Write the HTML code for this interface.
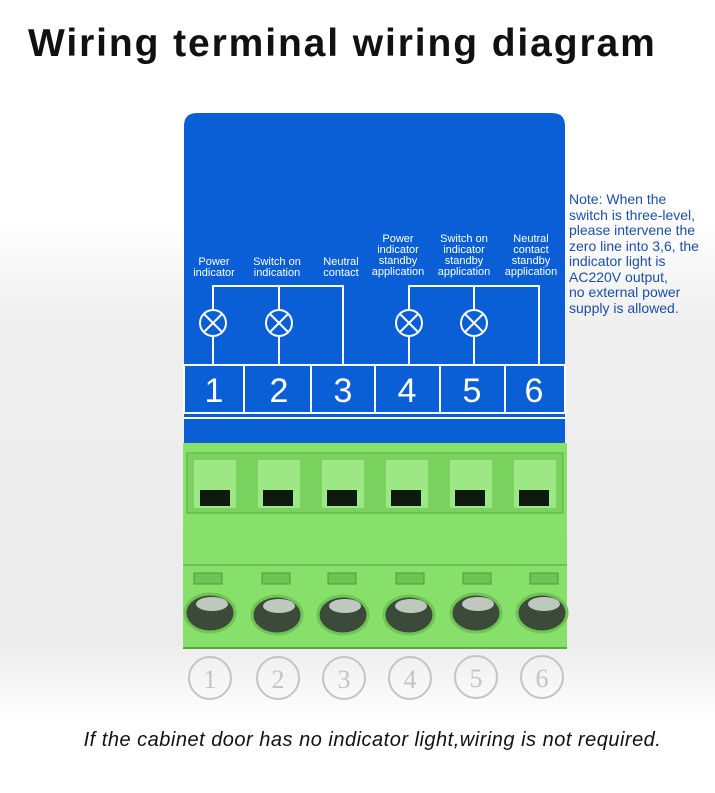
<!DOCTYPE html>
<html><head><meta charset="utf-8"><style>
body{margin:0;width:715px;height:793px;overflow:hidden;background:linear-gradient(#fff 0px,#fff 220px,#eeeeee 330px,#ececec 640px,#fff 720px);font-family:"Liberation Sans",sans-serif;position:relative}
h1{position:absolute;left:28px;top:22px;margin:0;font-size:39px;font-weight:bold;color:#111;letter-spacing:1.9px}
.note{position:absolute;left:569px;top:192px;font-size:14px;line-height:15.5px;color:#1a4fa8;white-space:nowrap}
.foot{position:absolute;left:15px;width:715px;top:729px;text-align:center;font-size:20px;font-style:italic;color:#111;letter-spacing:0.5px}
</style></head><body>
<h1>Wiring terminal wiring diagram</h1>
<div class="note">Note: When the<br>switch is three-level,<br>please intervene the<br>zero line into 3,6, the<br>indicator light is<br>AC220V output,<br>no external power<br>supply is allowed.</div>
<svg width="715" height="793" style="position:absolute;left:0;top:0">
<path d="M184 445 V126 Q184 113 197 113 H552 Q565 113 565 126 V445 Z" fill="#0a5fd6"/>
<g fill="#fff" font-family="Liberation Sans,sans-serif" font-size="11" text-anchor="middle">
<text x="214" y="265">Power</text><text x="214" y="276">indicator</text>
<text x="277" y="265">Switch on</text><text x="277" y="276">indication</text>
<text x="341" y="265">Neutral</text><text x="341" y="276">contact</text>
<text x="398" y="242">Power</text><text x="398" y="253">indicator</text><text x="398" y="264">standby</text><text x="398" y="275">application</text>
<text x="464" y="242">Switch on</text><text x="464" y="253">indicator</text><text x="464" y="264">standby</text><text x="464" y="275">application</text>
<text x="531" y="242">Neutral</text><text x="531" y="253">contact</text><text x="531" y="264">standby</text><text x="531" y="275">application</text>
</g>
<g stroke="#fff" stroke-width="2" fill="none">
<path d="M213 365 V286 H343 V365 M279 286 V365"/>
<path d="M409 365 V286 H539 V365 M474 286 V365"/>
<rect x="184" y="365" width="381" height="48"/>
<path d="M244 365V413M311 365V413M375 365V413M440 365V413M505 365V413"/>
<path d="M184 418 H565"/>
</g>
<g stroke="#fff" stroke-width="2" fill="#0a5fd6">
<circle cx="213" cy="323" r="13"/><circle cx="279" cy="323" r="13"/><circle cx="409" cy="323" r="13"/><circle cx="474" cy="323" r="13"/>
</g>
<g stroke="#fff" stroke-width="2">
<path d="M204 314l18 18M222 314l-18 18M270 314l18 18M288 314l-18 18M400 314l18 18M418 314l-18 18M465 314l18 18M483 314l-18 18"/>
</g>
<g fill="#fff" font-size="34" text-anchor="middle" font-family="Liberation Sans,sans-serif">
<text x="214" y="402">1</text><text x="279" y="402">2</text><text x="343" y="402">3</text><text x="407" y="402">4</text><text x="472" y="402">5</text><text x="534" y="402">6</text>
</g>
<rect x="183" y="443" width="384" height="205" fill="#86e06a"/>
<rect x="187" y="453" width="376" height="60" fill="#7ad35e" stroke="#5fae48"/>
<path d="M183 565 H567" stroke="#6cc252" stroke-width="2"/>
<path d="M183 648 H567" stroke="#5aa843" stroke-width="2"/>
<g fill="#9de884">
<rect x="194" y="460" width="42" height="48"/><rect x="258" y="460" width="42" height="48"/><rect x="322" y="460" width="42" height="48"/><rect x="386" y="460" width="42" height="48"/><rect x="450" y="460" width="42" height="48"/><rect x="514" y="460" width="42" height="48"/>
</g>
<g fill="#0e1a0e">
<rect x="200" y="490" width="30" height="16"/><rect x="263" y="490" width="30" height="16"/><rect x="327" y="490" width="30" height="16"/><rect x="391" y="490" width="30" height="16"/><rect x="455" y="490" width="30" height="16"/><rect x="519" y="490" width="30" height="16"/>
</g>
<g fill="#6cc452" stroke="#4f9a3b">
<rect x="194" y="573" width="28" height="11"/><rect x="262" y="573" width="28" height="11"/><rect x="328" y="573" width="28" height="11"/><rect x="396" y="573" width="28" height="11"/><rect x="463" y="573" width="28" height="11"/><rect x="530" y="573" width="28" height="11"/>
</g>
<g fill="#3c4a3a" stroke="#6fc455" stroke-width="3">
<ellipse cx="210" cy="613" rx="25" ry="19"/><ellipse cx="277" cy="615" rx="25" ry="19"/><ellipse cx="343" cy="615" rx="25" ry="19"/><ellipse cx="409" cy="615" rx="25" ry="19"/><ellipse cx="476" cy="613" rx="25" ry="19"/><ellipse cx="542" cy="613" rx="25" ry="19"/>
</g>
<g fill="#bfc8bf">
<ellipse cx="212" cy="604" rx="16" ry="7"/><ellipse cx="279" cy="606" rx="16" ry="7"/><ellipse cx="345" cy="606" rx="16" ry="7"/><ellipse cx="411" cy="606" rx="16" ry="7"/><ellipse cx="478" cy="604" rx="16" ry="7"/><ellipse cx="544" cy="604" rx="16" ry="7"/>
</g>
<g fill="none" stroke="#c4c4c4" stroke-width="2">
<circle cx="210" cy="678" r="21"/><circle cx="278" cy="678" r="21"/><circle cx="344" cy="678" r="21"/><circle cx="410" cy="678" r="21"/><circle cx="476" cy="677" r="21"/><circle cx="542" cy="677" r="21"/>
</g>
<g fill="#c4c4c4" font-size="26" text-anchor="middle" font-family="Liberation Serif,serif">
<text x="210" y="688">1</text><text x="278" y="688">2</text><text x="344" y="688">3</text><text x="410" y="688">4</text><text x="476" y="687">5</text><text x="542" y="687">6</text>
</g>
</svg>
<div class="foot">If the cabinet door has no indicator light,wiring is not required.</div>
</body></html>
